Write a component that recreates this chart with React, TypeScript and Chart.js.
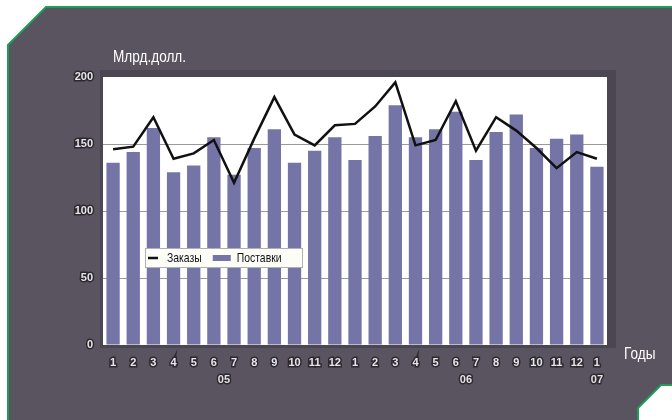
import React, { useEffect, useRef } from "react";
import { Chart, registerables } from "chart.js";

Chart.register(...registerables);

const months = ["1","2","3","4","5","6","7","8","9","10","11","12","1","2","3","4","5","6","7","8","9","10","11","12","1"];
const yearOf = ["05","05","05","05","05","05","05","05","05","05","05","05","06","06","06","06","06","06","06","06","06","06","06","06","07"];
const orders = [146,148,170,139,143,153,121,154,185,157,149,164,165,178,196,149,153,182,145,170,160,147,132,144,139];
const deliveries = [136,144,162,129,134,155,127,147,161,136,145,155,138,156,179,155,161,174,138,159,172,147,154,157,133];
const yTicks = [0, 50, 100, 150, 200];
const unitLabel = "Млрд.долл.";
const axisLabel = "Годы";
const seriesNames = ["Заказы", "Поставки"];

const SANS = "'Liberation Sans', Arial, sans-serif";
const PANEL = "#5a5360";
const GREEN = "#1f9c58";
const BAR = "#7574a6";
const NARROW_SCALE = 0.8;

function narrowText(ctx: CanvasRenderingContext2D, text: string, x: number, y: number): number {
  ctx.save();
  ctx.translate(x, y);
  ctx.scale(NARROW_SCALE, 1);
  ctx.fillText(text, 0, 0);
  const w = ctx.measureText(text).width * NARROW_SCALE;
  ctx.restore();
  return w;
}

const backgroundPlugin = {
  id: "bgPanel",
  beforeDraw(chart: any) {
    const ctx = chart.ctx;
    const ca = chart.chartArea;
    ctx.save();
    ctx.fillStyle = "#ffffff";
    ctx.fillRect(0, 0, chart.width, chart.height);
    ctx.beginPath();
    ctx.moveTo(46, 7);
    ctx.lineTo(672, 7);
    ctx.lineTo(672, 385);
    ctx.lineTo(661, 385);
    ctx.lineTo(638, 408);
    ctx.lineTo(638, 420);
    ctx.lineTo(8, 420);
    ctx.lineTo(8, 45);
    ctx.closePath();
    ctx.fillStyle = PANEL;
    ctx.fill();
    ctx.strokeStyle = GREEN;
    ctx.lineWidth = 2;
    ctx.beginPath();
    ctx.moveTo(672, 7);
    ctx.lineTo(46, 7);
    ctx.lineTo(8, 45);
    ctx.lineTo(8, 420);
    ctx.stroke();
    ctx.beginPath();
    ctx.moveTo(672, 385);
    ctx.lineTo(661, 385);
    ctx.lineTo(638, 408);
    ctx.lineTo(638, 420);
    ctx.stroke();
    // plot shadow frame
    ctx.fillStyle = "#4c4652";
    ctx.fillRect(ca.left - 3, ca.top - 7, ca.right - ca.left + 12, ca.bottom - ca.top + 10);
    ctx.fillStyle = "#ffffff";
    ctx.fillRect(ca.left, ca.top, ca.right - ca.left, ca.bottom - ca.top);
    // texts
    ctx.fillStyle = "#ffffff";
    ctx.font = "17px " + SANS;
    ctx.textBaseline = "middle";
    ctx.textAlign = "left";
    narrowText(ctx, unitLabel, 113, 57);
    narrowText(ctx, axisLabel, 624, 354);
    ctx.restore();
  },
};

const overlayPlugin = {
  id: "overlay",
  afterDatasetsDraw(chart: any) {
    const ctx = chart.ctx;
    const ca = chart.chartArea;
    ctx.save();
    const bx = ca.left + 42;
    const by = ca.top + 171;
    const bw = 157;
    const bh = 19;
    ctx.fillStyle = "#fdfdf7";
    ctx.fillRect(bx, by, bw, bh);
    ctx.strokeStyle = "#b0b0b0";
    ctx.lineWidth = 1;
    ctx.strokeRect(bx + 0.5, by + 0.5, bw, bh);
    const cy = by + bh / 2 + 0.5;
    ctx.strokeStyle = "#111";
    ctx.lineWidth = 2.5;
    ctx.beginPath();
    ctx.moveTo(bx + 3, cy);
    ctx.lineTo(bx + 13, cy);
    ctx.stroke();
    ctx.font = "13px " + SANS;
    ctx.fillStyle = "#111";
    ctx.textBaseline = "middle";
    ctx.textAlign = "left";
    let x = bx + 22;
    x += narrowText(ctx, seriesNames[0], x, cy);
    x += 11;
    ctx.fillStyle = BAR;
    ctx.fillRect(x, cy - 3, 18, 6);
    x += 24;
    ctx.fillStyle = "#111";
    narrowText(ctx, seriesNames[1], x, cy);
    ctx.restore();
  },
  afterDraw(chart: any) {
    const ctx = chart.ctx;
    const xs = chart.scales.x;
    const groups: { [k: string]: number[] } = {};
    const orderKeys: string[] = [];
    yearOf.forEach((y, i) => {
      if (!groups[y]) { groups[y] = []; orderKeys.push(y); }
      groups[y].push(i);
    });
    ctx.save();
    ctx.font = "bold 11px " + SANS;
    ctx.textAlign = "center";
    ctx.textBaseline = "middle";
    ctx.lineJoin = "round";
    orderKeys.forEach((y) => {
      const idx = groups[y];
      const c = (idx[0] + idx[idx.length - 1]) / 2;
      const px = xs.getPixelForValue(c);
      ctx.strokeStyle = "rgba(40,35,45,0.9)";
      ctx.lineWidth = 3;
      ctx.strokeText(y, px, 380);
      ctx.fillStyle = "#e4e4e4";
      ctx.fillText(y, px, 380);
    });
    ctx.restore();
  },
};

export default function App() {
  const ref = useRef<HTMLCanvasElement | null>(null);
  useEffect(() => {
    if (!ref.current) return;
    const chart = new Chart(ref.current, {
      type: "bar",
      data: {
        labels: months,
        datasets: [
          {
            type: "line",
            label: seriesNames[0],
            data: orders,
            borderColor: "#111111",
            borderWidth: 2.5,
            pointRadius: 0,
            tension: 0,
            order: 0,
          } as any,
          {
            type: "bar",
            label: seriesNames[1],
            data: deliveries,
            backgroundColor: BAR,
            barPercentage: 0.66,
            categoryPercentage: 1,
            order: 1,
          },
        ],
      },
      options: {
        animation: false,
        responsive: false,
        layout: { padding: { left: 0, right: 65, top: 77, bottom: 35 } },
        plugins: { legend: { display: false }, tooltip: { enabled: false } },
        scales: {
          x: {
            grid: { display: false, drawTicks: false },
            border: { display: false },
            ticks: {
              autoSkip: false,
              maxRotation: 0,
              padding: 11,
              color: "#e6e6e6",
              font: { family: SANS, size: 11, weight: "bold" },
              textStrokeColor: "rgba(40,35,45,0.9)",
              textStrokeWidth: 3,
            } as any,
            afterFit: (s: any) => { s.height = 40; },
          },
          y: {
            min: yTicks[0],
            max: yTicks[yTicks.length - 1],
            afterBuildTicks: (s: any) => { s.ticks = yTicks.map((v) => ({ value: v })); },
            grid: {
              drawTicks: false,
              color: (c: any) => (c.tick && (c.tick.value === yTicks[0] || c.tick.value === yTicks[yTicks.length - 1]) ? "rgba(0,0,0,0)" : "#9a9a9a"),
            },
            border: { display: false },
            ticks: {
              padding: 10,
              color: "#e6e6e6",
              font: { family: SANS, size: 11, weight: "bold" },
              textStrokeColor: "rgba(40,35,45,0.9)",
              textStrokeWidth: 3,
            } as any,
            afterFit: (s: any) => { s.width = 103; },
          },
        },
      },
      plugins: [backgroundPlugin, overlayPlugin],
    });
    return () => chart.destroy();
  }, []);
  return (
    <div style={{ position: "absolute", left: 0, top: 0, width: 672, height: 420 }}>
      <canvas ref={ref} width={672} height={420} style={{ width: 672, height: 420, display: "block" }} />
    </div>
  );
}
